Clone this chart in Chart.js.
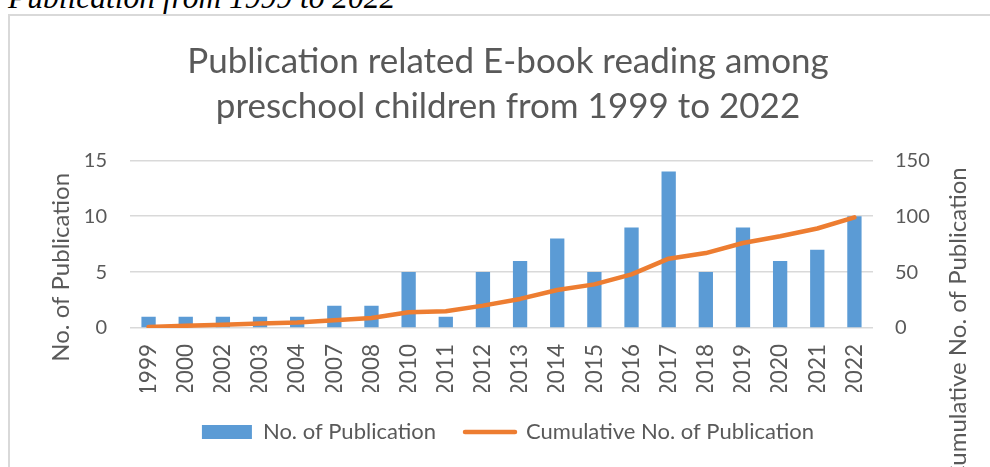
<!DOCTYPE html>
<html>
<head>
<meta charset="utf-8">
<script src="https://cdn.jsdelivr.net/npm/chart.js@4"></script>
<style>
  html, body { margin: 0; padding: 0; width: 990px; height: 467px; overflow: hidden; background: #fff; }
  #caption { position: absolute; left: 8px; top: -18px; font: italic 31.5px "Liberation Serif", serif; line-height: 1; white-space: nowrap; color: #000; }
  #frame { position: absolute; left: 8px; top: 14px; width: 996px; height: 480px; border: 2px solid #d9d9d9; }
  canvas { display: block; }
</style>
</head>
<body>
<div id="caption">Publication from 1999 to 2022</div>
<div id="frame"><canvas id="chart" width="996" height="480"></canvas></div>
<script>
const years = ['1999', '2000', '2002', '2003', '2004', '2007', '2008', '2010', '2011', '2012',
  '2013', '2014', '2015', '2016', '2017', '2018', '2019', '2020', '2021', '2022'];
const publications = [1, 1, 1, 1, 1, 2, 2, 5, 1, 5, 6, 8, 5, 9, 14, 5, 9, 6, 7, 10];
const cumulative = [1, 2, 3, 4, 5, 7, 9, 14, 15, 20, 26, 34, 39, 48, 62, 67, 76, 82, 89, 99];
const leftTicks = [0, 5, 10, 15];
const rightTicks = [0, 50, 100, 150];

const titleLines = ['Publication related E-book reading among', 'preschool children from 1999 to 2022'];
const leftTitle = 'No. of Publication';
const rightTitle = 'Cumulative No. of Publication';

const textColor = '#595959';
const gridColor = '#d9d9d9';
const fontFamily = 'Lato, "Open Sans", sans-serif';

// axis titles drawn by hand so both read bottom-to-top like the original
const axisTitles = {
  id: 'axisTitles',
  afterDraw(chart) {
    const { ctx, chartArea } = chart;
    ctx.save();
    ctx.fillStyle = textColor;
    ctx.font = '24px ' + fontFamily;
    ctx.textBaseline = 'middle';

    ctx.save();
    ctx.translate(chartArea.left - 69, chartArea.top + 107);
    ctx.rotate(-Math.PI / 2);
    ctx.textAlign = 'center';
    ctx.fillText(leftTitle, 0, 0);
    ctx.restore();

    ctx.save();
    ctx.translate(chartArea.right + 85, chartArea.top + 7);
    ctx.rotate(-Math.PI / 2);
    ctx.textAlign = 'right';
    ctx.fillText(rightTitle, 0, 0);
    ctx.restore();

    ctx.restore();
  },
};

const ctx = document.getElementById('chart').getContext('2d');
const myChart = new Chart(ctx, {
  type: 'bar',
  data: {
    labels: years,
    datasets: [
      {
        label: 'No. of Publication',
        data: publications,
        backgroundColor: '#5b9bd5',
        borderWidth: 0,
        barPercentage: 0.385,
        categoryPercentage: 1,
        yAxisID: 'y',
        order: 1,
      },
      {
        type: 'line',
        label: 'Cumulative No. of Publication',
        data: cumulative,
        borderColor: '#ed7d31',
        backgroundColor: '#ed7d31',
        borderWidth: 4.5,
        borderCapStyle: 'round',
        borderJoinStyle: 'round',
        pointRadius: 0,
        tension: 0,
        yAxisID: 'y1',
        order: 0,
      },
    ],
  },
  options: {
    responsive: false,
    animation: false,
    layout: { padding: { left: 0, right: 0, top: 0, bottom: 43 } },
    scales: {
      x: {
        grid: { display: false, drawTicks: false },
        border: { display: false },
        ticks: {
          color: textColor,
          font: { family: fontFamily, size: 22.5 },
          minRotation: 90,
          maxRotation: 90,
          autoSkip: false,
          padding: 16,
        },
        afterFit: (s) => { s.height = 64; },
      },
      y: {
        position: 'left',
        min: leftTicks[0],
        max: leftTicks[leftTicks.length - 1],
        grid: { color: gridColor, lineWidth: 1.5, drawTicks: false },
        border: { display: false },
        ticks: {
          stepSize: leftTicks[1] - leftTicks[0],
          color: textColor,
          font: { family: fontFamily, size: 20 },
          padding: 23,
        },
        afterFit: (s) => { s.width = 120; },
      },
      y1: {
        position: 'right',
        min: rightTicks[0],
        max: rightTicks[rightTicks.length - 1],
        grid: { display: false, drawTicks: false },
        border: { display: false },
        ticks: {
          stepSize: rightTicks[1] - rightTicks[0],
          color: textColor,
          font: { family: fontFamily, size: 20 },
          padding: 22,
        },
        afterFit: (s) => { s.width = 133; },
      },
    },
    plugins: {
      title: {
        display: true,
        text: titleLines,
        color: textColor,
        font: { family: fontFamily, size: 35, weight: 'normal', lineHeight: 1.29 },
        padding: { top: 23, bottom: 31 },
      },
      legend: {
        display: true,
        position: 'bottom',
        labels: {
          color: textColor,
          font: { family: fontFamily, size: 22 },
          usePointStyle: true,
          pointStyleWidth: 50,
          boxHeight: 14,
          padding: 29,
          generateLabels: (chart) => {
            const items = Chart.defaults.plugins.legend.labels.generateLabels(chart);
            items.forEach((item) => {
              const ds = chart.data.datasets[item.datasetIndex];
              if (ds.type === 'line') {
                item.pointStyle = 'line';
                item.lineWidth = 4.5;
                item.strokeStyle = ds.borderColor;
                item.lineCap = 'round';
              } else {
                item.pointStyle = 'rect';
                item.lineWidth = 0;
              }
            });
            return items.sort((a, b) => a.datasetIndex - b.datasetIndex);
          },
        },
      },
      tooltip: { enabled: false },
    },
  },
  plugins: [axisTitles],
});
</script>
</body>
</html>
